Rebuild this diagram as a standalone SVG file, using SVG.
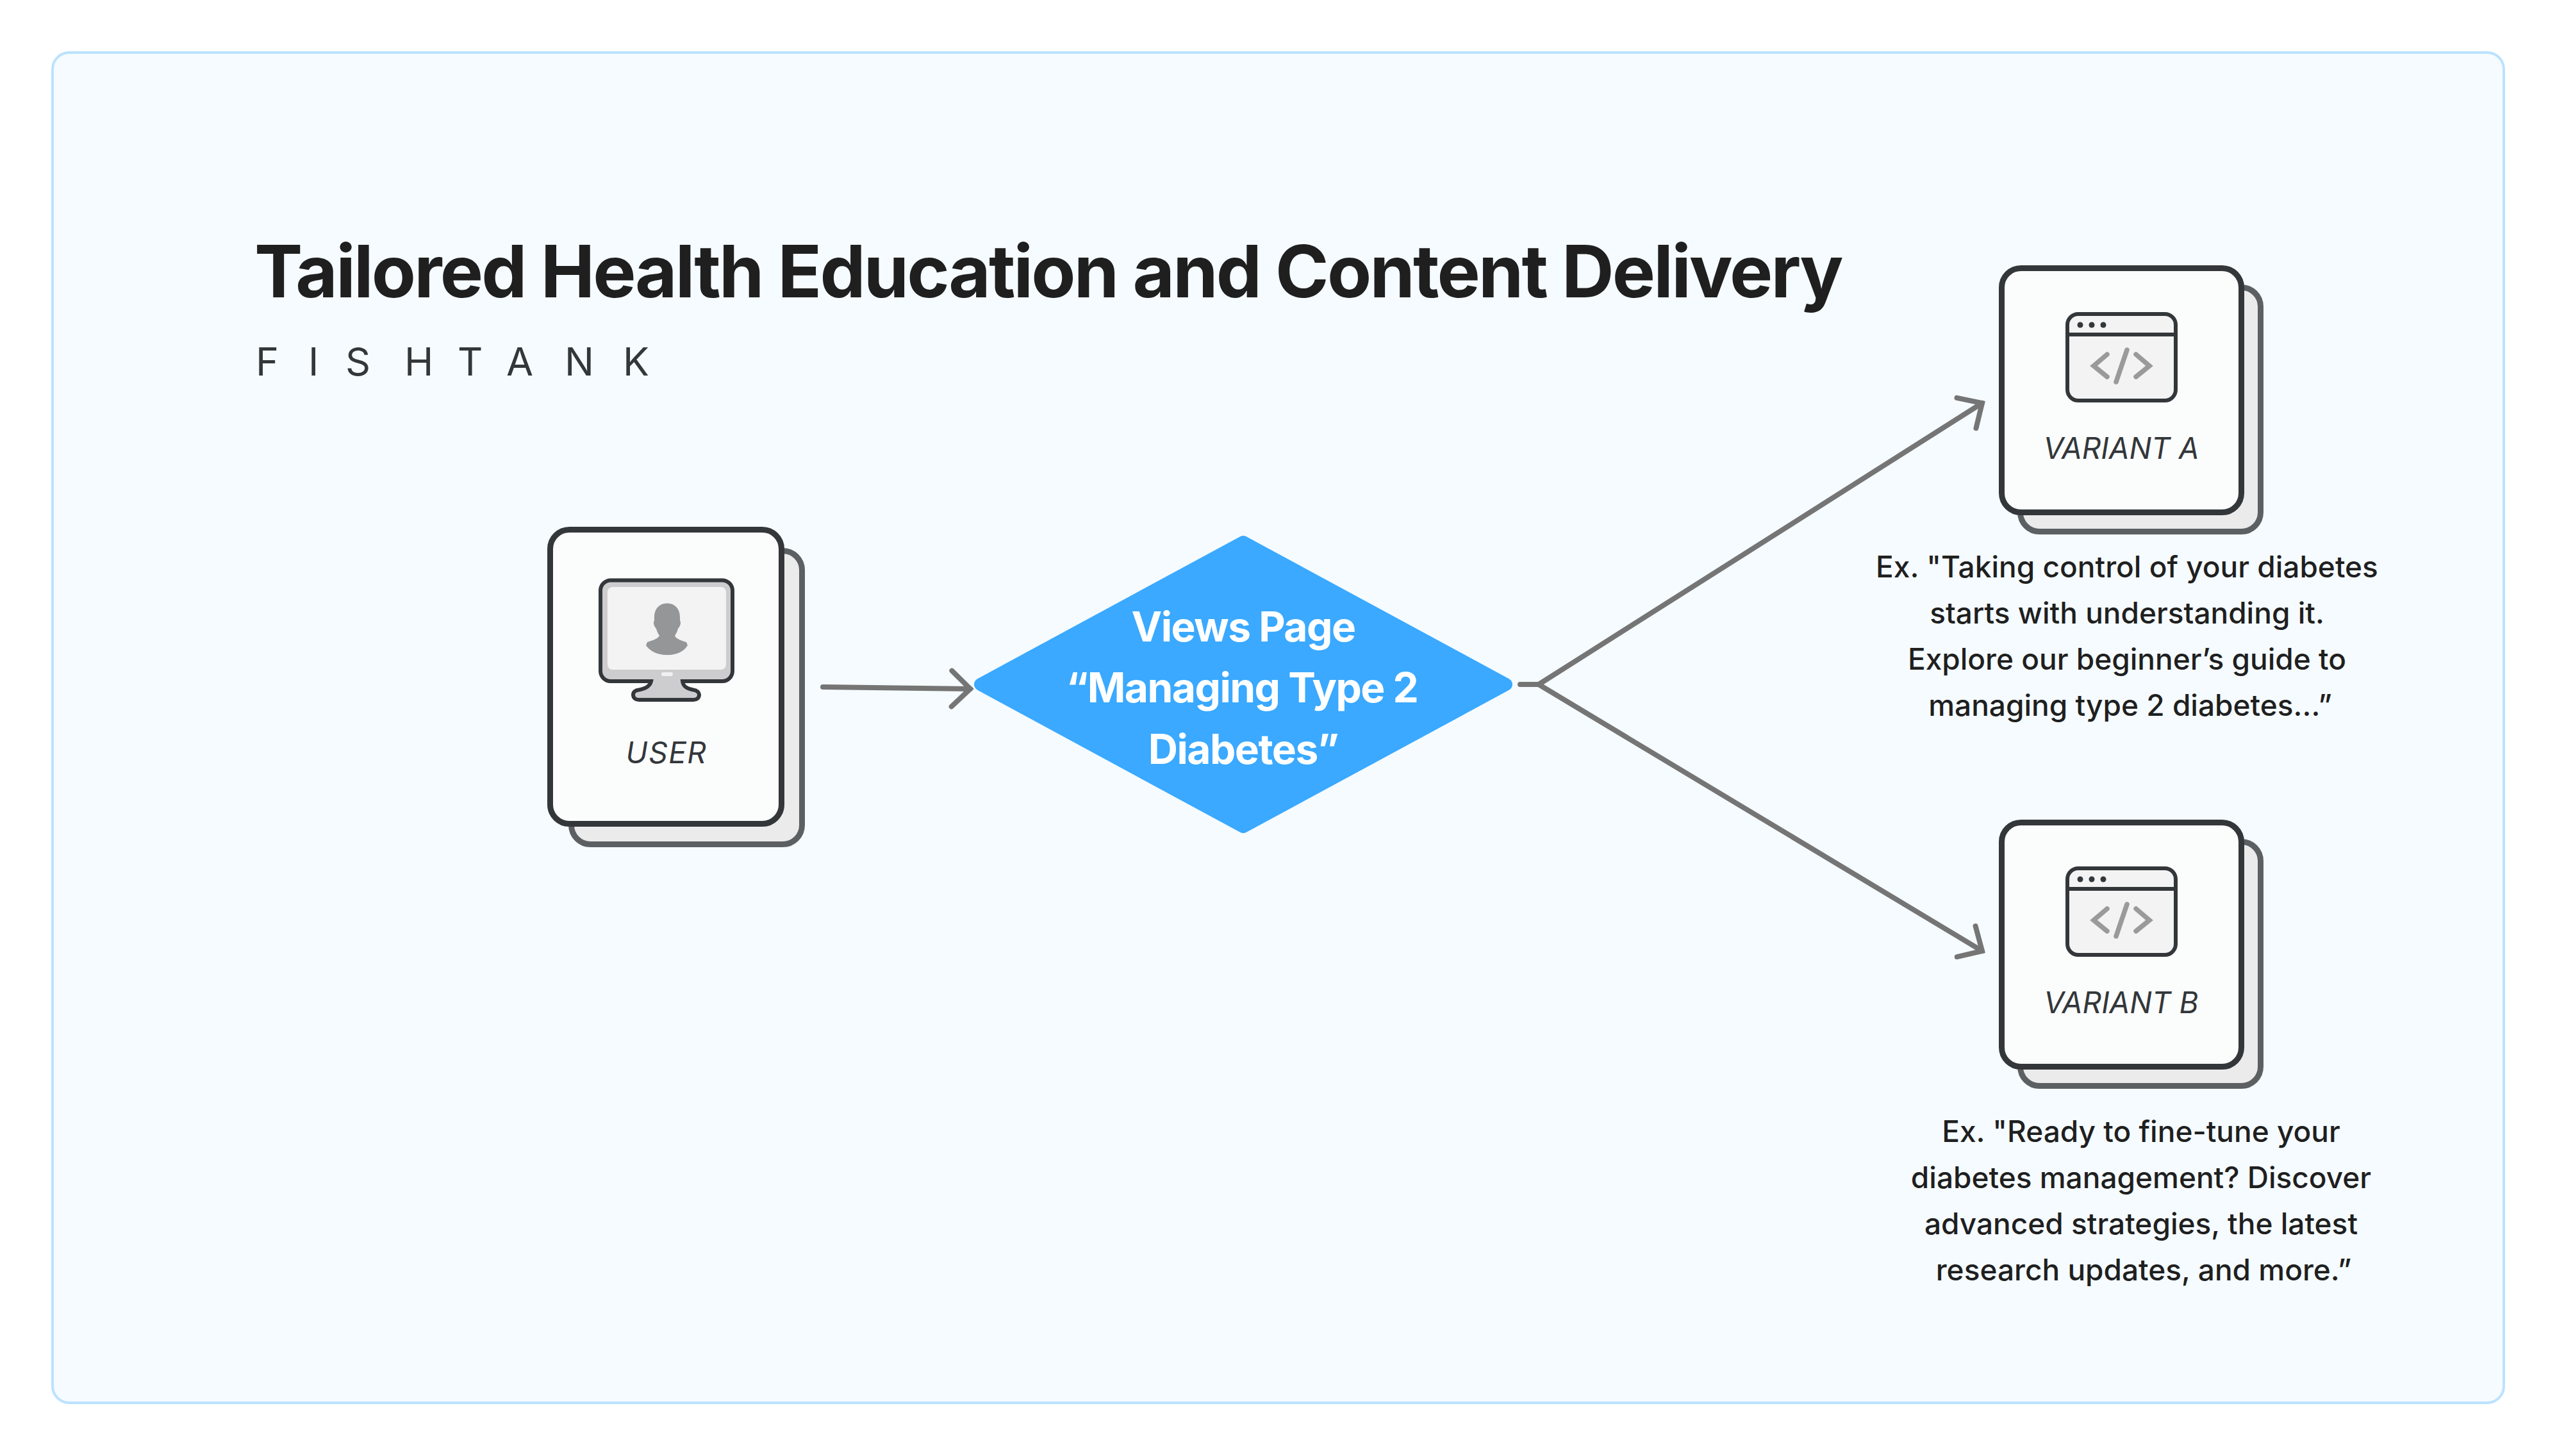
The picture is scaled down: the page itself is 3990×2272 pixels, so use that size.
<svg xmlns="http://www.w3.org/2000/svg" width="3990" height="2272" viewBox="0 0 3990 2272">
<style>
.back{fill:#ebebeb;stroke:#5c6063;stroke-width:9}
.front{fill:#fbfcfc;stroke:#33373a;stroke-width:9}
.lbl{font-family:"Inter","Open Sans",sans-serif;font-style:italic;font-weight:400;font-size:46px;fill:#33373a;text-anchor:middle}
.body{font-family:"Inter","Liberation Sans",sans-serif;font-weight:500;font-size:46px;fill:#1f1f1f;text-anchor:middle}
.dia{font-family:"Inter","Liberation Sans",sans-serif;font-weight:700;font-size:64px;letter-spacing:-1.5px;fill:#fff;text-anchor:middle}
.conn{fill:none;stroke:#757575;stroke-width:8;stroke-linecap:round;stroke-linejoin:round}
.win{fill:#f3f3f3;stroke:#33373a;stroke-width:6}
.code{fill:none;stroke:#9a9a9a;stroke-width:7.5;stroke-linecap:round;stroke-linejoin:miter}
</style>
<defs>
<marker id="arrow" markerUnits="userSpaceOnUse" markerWidth="80" markerHeight="80" refX="40" refY="40" orient="auto" viewBox="0 0 80 80" overflow="visible">
<path d="M11 12L40 40L11 68" fill="none" stroke="#757575" stroke-width="8" stroke-linecap="round" stroke-linejoin="miter"/>
</marker>
<g id="window-icon">
<rect class="win" x="3226" y="490" width="169" height="135" rx="17"/>
<path d="M3226 522H3395" stroke="#33373a" stroke-width="6" fill="none"/>
<circle cx="3246" cy="507" r="4.5" fill="#33373a"/><circle cx="3264" cy="507" r="4.5" fill="#33373a"/><circle cx="3282" cy="507" r="4.5" fill="#33373a"/>
<path class="code" d="M3288 553L3267 571L3288 588M3319 546L3302 596M3333 553L3354 571L3333 588"/>
</g>
</defs>
<rect id="panel" x="82" y="82" width="3825" height="2107" rx="26" fill="#f5fbff" stroke="#bbe2ff" stroke-width="4"/>
<text id="title" x="397" y="464" font-family="Inter,'Liberation Sans',sans-serif" font-weight="700" font-size="113" letter-spacing="-2.8" fill="#1f1f1f">Tailored Health Education and Content Delivery</text>
<text id="brand" y="586" font-family="Inter,sans-serif" font-weight="400" font-size="61" fill="#33373a" x="399 481 539 631 714 790 881 972">FISHTANK</text>
<g id="connectors" class="conn">
<path d="M1284 1072L1514 1075" marker-end="url(#arrow)"/>
<path d="M2372 1068H2401L3093 629" marker-end="url(#arrow)"/>
<path d="M2401 1068L3093 1484" marker-end="url(#arrow)"/>
</g>
<g id="user">
<rect class="back" x="891.5" y="859.5" width="360" height="458" rx="30"/>
<rect class="front" x="858.5" y="826.5" width="361" height="459" rx="30"/>
<path d="M953 905.5H1127a16 16 0 0 1 16 16V1047a16 16 0 0 1-16 16H1065C1066 1072 1073 1075 1082 1076.5C1088 1077 1091 1081 1091 1084C1091 1089 1087 1092 1082 1092H997C992 1092 988 1089 988 1084C988 1080 991 1077 997 1076.5C1006 1075 1014 1072 1016 1063H953a16 16 0 0 1-16-16V921.5a16 16 0 0 1 16-16Z" fill="#cdcdcf" stroke="#33373a" stroke-width="6"/>
<rect x="948" y="916" width="185" height="129" rx="8" fill="#f3f3f3"/>
<rect x="1032" y="1049" width="18" height="6" rx="3" fill="#f0f0f0"/>
<path d="M1041 941.5C1053 941.5 1061 950 1061 963L1061 968C1063 971 1062 977 1058 981C1057 985 1055 989 1053 992C1055 997 1062 999 1071 1002L1073 1007C1067 1017 1055 1022 1041 1022C1027 1022 1015 1017 1008 1007L1010 1002C1019 999 1026 997 1029 992C1027 989 1025 985 1024 981C1020 977 1019 971 1021 968L1021 963C1021 950 1029 941.5 1041 941.5Z" fill="#959697"/>
<text class="lbl" x="1040" y="1191" letter-spacing="1.5">USER</text>
</g>
<g id="decision">
<path d="M1940 846L2350 1068L1940 1290L1530 1068Z" fill="#3aa9ff" stroke="#3aa9ff" stroke-width="20" stroke-linejoin="round"/>
<text class="dia" x="1940" y="1001">Views Page</text>
<text class="dia" x="1938" y="1096">“Managing Type 2</text>
<text class="dia" x="1940" y="1192">Diabetes”</text>
</g>
<g id="variant-a">
<rect class="back" x="3152.5" y="448.5" width="375" height="381" rx="30"/>
<rect class="front" x="3123.5" y="418.5" width="374" height="381" rx="30"/>
<use href="#window-icon"/>
<text class="lbl" x="3310" y="716">VARIANT A</text>
</g>
<g id="variant-b">
<rect class="back" x="3152.5" y="1313.5" width="375" height="381" rx="30"/>
<rect class="front" x="3123.5" y="1283.5" width="374" height="381" rx="30"/>
<use href="#window-icon" y="865"/>
<text class="lbl" x="3310" y="1581">VARIANT B</text>
</g>
<g id="text-a">
<text class="body" x="3319" y="901">Ex. "Taking control of your diabetes</text>
<text class="body" x="3319" y="973">starts with understanding it.</text>
<text class="body" x="3319" y="1045">Explore our beginner’s guide to</text>
<text class="body" x="3324" y="1117">managing type 2 diabetes...”</text>
</g>
<g id="text-b">
<text class="body" x="3341" y="1782">Ex. "Ready to fine-tune your</text>
<text class="body" x="3341" y="1854">diabetes management? Discover</text>
<text class="body" x="3341" y="1926">advanced strategies, the latest</text>
<text class="body" x="3345" y="1998">research updates, and more.”</text>
</g>
</svg>
